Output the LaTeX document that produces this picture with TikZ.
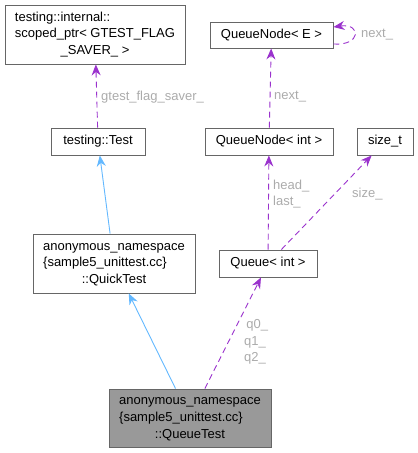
\documentclass[tikz,border=0pt]{standalone}
\usepackage{fontspec}
\setmainfont{Liberation Sans}
\usetikzlibrary{arrows.meta}
\definecolor{edgeblue}{HTML}{63B8FF}
\definecolor{edgepurple}{HTML}{9A32CD}
\definecolor{boxline}{HTML}{666666}
\definecolor{lblgray}{HTML}{ABABAB}
\definecolor{fillgray}{HTML}{999999}
\tikzset{
  cls/.style={draw=boxline, line width=0.9pt, fill=white, inner sep=0pt, font=\fontsize{13}{16.7}\selectfont},
  inherit/.style={draw=edgeblue, line width=0.9pt, -{Stealth[length=11pt,width=9pt]}},
  usage/.style={draw=edgepurple, line width=0.9pt, dash pattern=on 6pt off 4pt, -{Stealth[length=11pt,width=9pt]}},
  lbl/.style={text=lblgray, font=\fontsize{13}{16.7}\selectfont, inner sep=0pt, anchor=west, align=left}
}
\newcommand{\mlines}[3]{\begin{tabular}{@{}l@{}}#1\\#2\\\multicolumn{1}{@{}c@{}}{#3}\end{tabular}}
\begin{document}
\begin{tikzpicture}[x=1pt,y=-1pt]
\useasboundingbox (0,0) rectangle (418,453);
\node[cls, minimum width=180pt, minimum height=59pt] (sp) at (95,34.5)
  {\mlines{testing::internal::}{scoped\_ptr< GTEST\_FLAG}{\_SAVER\_ >}};
\node[cls, minimum width=94pt, minimum height=27pt] (test) at (98,141.5) {testing::Test};
\node[cls, minimum width=123pt, minimum height=26pt] (qne) at (271.5,35) {QueueNode< E >};
\node[cls, minimum width=128pt, minimum height=27pt] (qni) at (269,141.5) {QueueNode< int >};
\node[cls, minimum width=56pt, minimum height=27pt] (sizet) at (385,141.5) {size\_t};
\node[cls, minimum width=162pt, minimum height=59pt] (quick) at (114,263.5)
  {\mlines{anonymous\_namespace}{\{sample5\_unittest.cc\}}{::QuickTest}};
\node[cls, minimum width=98pt, minimum height=27pt] (queue) at (268,263.5) {Queue< int >};
\node[cls, fill=fillgray, minimum width=162pt, minimum height=58pt] (qt) at (190,418)
  {\mlines{anonymous\_namespace}{\{sample5\_unittest.cc\}}{::QueueTest}};

\draw[usage] (test) -- (sp);
\draw[inherit] (quick) -- (test);
\draw[inherit] (qt) -- (quick);
\draw[usage] (qt) -- (queue);
\draw[usage] (queue) -- (qni);
\draw[usage] (queue) -- (sizet);
\draw[usage] (qni) -- (qne);
\draw[usage] ([yshift=-9pt]qne.east) .. controls +(28,2) and +(28,-4) .. ([yshift=8pt]qne.east);

\node[lbl] (l1) at (101,97) {gtest\_flag\_saver\_};
\node[lbl] (l2) at (274,97) {next\_};
\node[lbl] (l3) at (361,35) {next\_};
\node[lbl] (l4) at (273,194) {head\_\\last\_};
\node[lbl] (l5) at (352,194) {size\_};
\node[lbl] (l6) at (244,342) {\,q0\_\\q1\_\\q2\_};
\end{tikzpicture}
\end{document}
